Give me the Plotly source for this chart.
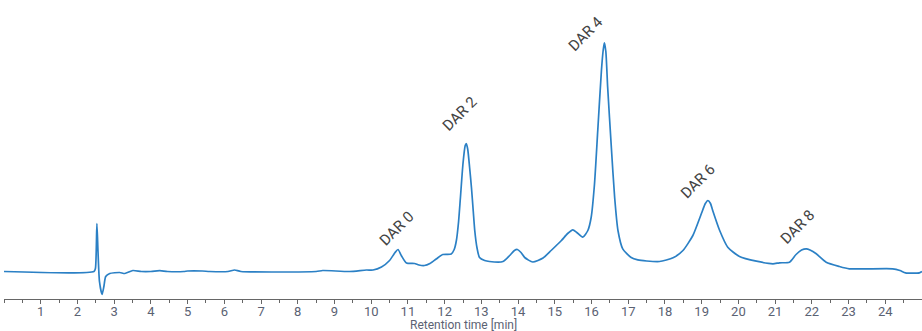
import numpy as np
import plotly.graph_objects as go

# Retention time (min) and detector signal (arbitrary units)
time_min = [0.0, 2.45, 2.49, 2.53, 2.56, 2.60, 2.67, 2.72, 2.77, 2.88, 3.15, 3.29, 3.51, 3.74, 4.0,
            4.24, 4.45, 4.9, 5.0, 5.4, 5.6, 6.1, 6.28, 6.45, 8.5, 8.68, 9.41, 9.87, 10.05, 10.28,
            10.5, 10.65, 10.73, 10.82, 10.96, 11.18, 11.3, 11.45, 11.6, 11.77, 11.95, 12.18, 12.26,
            12.32, 12.38, 12.43, 12.5, 12.56, 12.59, 12.63, 12.68, 12.73, 12.78, 12.82, 12.88, 12.95,
            13.09, 13.22, 13.59, 13.77, 13.9, 13.98, 14.08, 14.18, 14.4, 14.68, 14.9, 15.18, 15.35,
            15.49, 15.6, 15.76, 15.9, 15.99, 16.08, 16.17, 16.27, 16.32, 16.35, 16.39, 16.44, 16.54,
            16.63, 16.72, 16.85, 17.08, 17.26, 17.5, 17.85, 18.22, 18.49, 18.76, 18.99, 19.1, 19.17,
            19.24, 19.3, 19.49, 19.71, 20.03, 20.49, 20.94, 21.12, 21.39, 21.57, 21.72, 21.85, 21.95,
            22.12, 22.39, 22.75, 23.02, 24.2, 24.4, 24.55, 24.93, 25.0]
signal = [0, 0, 3, 48, 20, -10, -23, -15, -5, -2, -1, -2, 1, 0, 0,
          0.8, 0, 0, 0.5, 0.5, 0, 0, 1.5, 0, 0, 1, 0, 1.5, 1.5, 4.5,
          11, 19, 22, 16, 8.5, 8, 6.5, 6, 8, 12.5, 17, 17.5, 22,
          31, 50, 74, 108, 126, 128, 122, 104, 84, 60, 41, 24, 14,
          11, 10, 10, 16, 21, 22, 19, 14, 9.5, 13.5, 21, 31, 38,
          41.7, 39, 34.3, 41, 54, 87, 141, 201, 222, 228.7, 220, 184, 124,
          74, 41, 22.7, 14, 11.6, 10.5, 10, 13.7, 21, 36, 57.7, 68, 71,
          68, 61, 41, 24.3, 15, 10.3, 7.7, 8.7, 9.3, 17, 21.5, 22.7, 21.5,
          17.7, 9.3, 5, 2.7, 2.7, 1, -1.3, -1.3, 0]

peak_labels = ["DAR 0", "DAR 2", "DAR 4", "DAR 6", "DAR 8"]
peak_times = [10.73, 12.59, 16.35, 19.17, 21.85]

tick_values = list(range(1, 25))
tick_labels = [str(v) for v in tick_values]
x_title = "Retention time [min]"

fig = go.Figure()
fig.add_trace(go.Scatter(
    x=time_min, y=signal, mode="lines",
    line=dict(color="#2b80c5", width=1.7, shape="spline", smoothing=0.6),
    hoverinfo="skip", showlegend=False,
))

label_shifts = [(-2, 21), (-7, 30), (-19, 9), (-10, 20), (-9, 22)]
for lab, pt, (dx, dy) in zip(peak_labels, peak_times, label_shifts):
    fig.add_annotation(
        x=pt, y=float(np.interp(pt, time_min, signal)), text=lab, showarrow=False,
        textangle=-45, xanchor="center", yanchor="middle", xshift=dx, yshift=dy,
        font=dict(family="Roboto", size=15, color="#444444"),
    )

# axis title, placed just below the tick labels
fig.add_annotation(
    x=0.5, y=-0.09, xref="paper", yref="paper", text=x_title, showarrow=False,
    xanchor="center", yanchor="middle",
    font=dict(family="Roboto", size=12, color="#5b6273"),
)

fig.update_layout(
    width=922, height=331,
    margin=dict(l=4, r=0, t=5, b=32, autoexpand=False),
    paper_bgcolor="white", plot_bgcolor="white",
    xaxis=dict(
        range=[0, 25], tickmode="array", tickvals=tick_values, ticktext=tick_labels,
        automargin=False, ticklabelstandoff=-4,
        showgrid=False, zeroline=False, showline=True, linecolor="#666666", linewidth=1,
        ticks="outside", ticklen=4, tickcolor="#666666",
        tickfont=dict(family="Roboto", size=13, color="#5b6273"),
        minor=dict(tickmode="linear", tick0=0, dtick=0.5, ticks="outside", ticklen=3,
                   tickcolor="#666666", showgrid=False),
    ),
    yaxis=dict(range=[-27.5, 266.5], visible=False, showgrid=False, zeroline=False),
)

fig.write_html("out.html", config={"displayModeBar": False},
               post_script="document.body.style.margin='0';")
